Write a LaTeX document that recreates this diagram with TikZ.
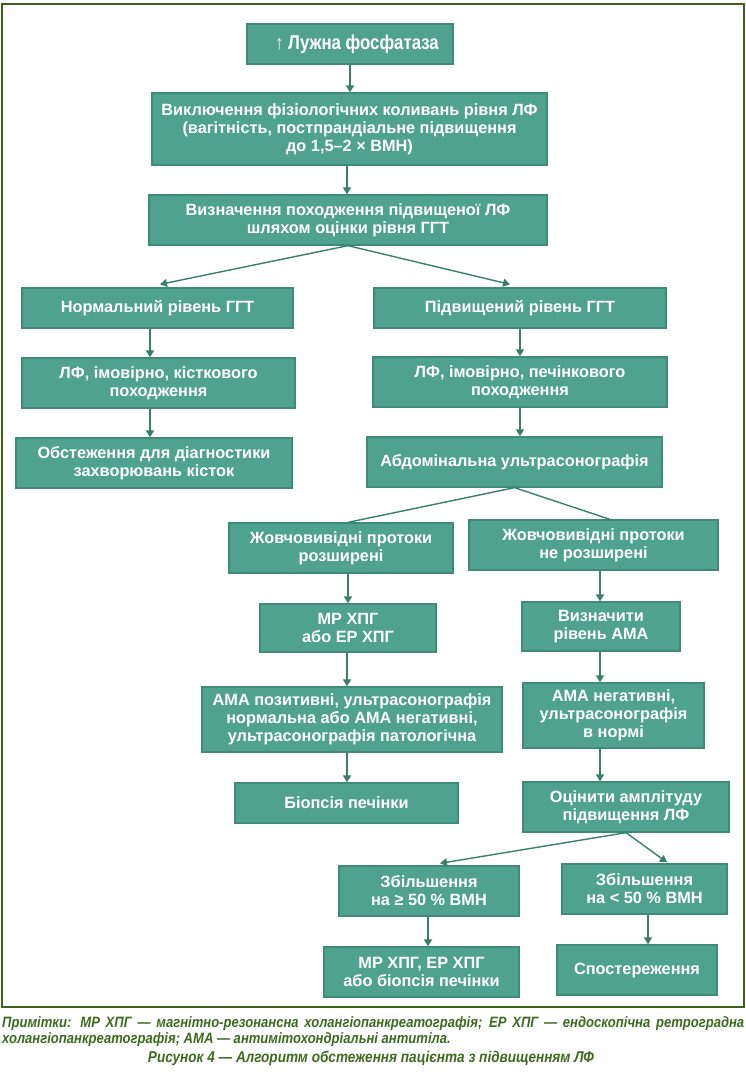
\documentclass[tikz,border=0pt]{standalone}
\usepackage{fontspec}
\setmainfont{Liberation Sans}
\newfontfamily\vuzkyj[FakeStretch=0.84]{Liberation Sans}
\newfontfamily\vuzkyjprym[FakeStretch=0.87]{Liberation Sans}
\usepackage{xcolor}
\usepackage{tikz}
\usetikzlibrary{arrows.meta}
\definecolor{zelen}{HTML}{4FA38E}
\definecolor{kontur}{HTML}{3E8C78}
\definecolor{liniya}{HTML}{3A7F6C}
\definecolor{ramkakolir}{HTML}{3D6119}
\definecolor{prymitka}{HTML}{3C6A1E}

\begin{document}
\begin{tikzpicture}[x=1pt, y=-1pt,
  blok/.style={draw=kontur, line width=1.3pt, fill=zelen, text=white, inner sep=0pt,
    align=center, font=\bfseries\fontsize{16.3}{18}\selectfont},
  strilka/.style={draw=liniya, line width=2pt, -{Triangle[length=7pt,width=8pt]}},
  skis/.style={draw=liniya, line width=1.4pt, -{Triangle[length=7pt,width=8pt]}},
  skisbez/.style={draw=liniya, line width=1.4pt}]
  \useasboundingbox (0,0) rectangle (746,1074);
  % рамка
  \draw[ramkakolir, line width=1.3pt] (2,4) rectangle (744,1007);
  % верхні блоки
  \node[blok, minimum width=206, minimum height=40, font=\vuzkyj\bfseries\fontsize{20}{22}\selectfont] (lf) at (350,44) {\hspace*{14pt}↑ Лужна фосфатаза};
  \node[blok, minimum width=395, minimum height=72] (vykl) at (349.5,129) {Виключення фізіологічних коливань рівня ЛФ\\(вагітність, постпрандіальне підвищення\\до 1,5–2 × ВМН)};
  \node[blok, minimum width=398, minimum height=50] (vyzn) at (348,220) {Визначення походження підвищеної ЛФ\\шляхом оцінки рівня ГГТ};
  % ліва гілка
  \node[blok, minimum width=271, minimum height=40] (norm) at (157.5,308) {Нормальний рівень ГГТ};
  \node[blok, minimum width=273, minimum height=50] (kist) at (158.5,383) {ЛФ, імовірно, кісткового\\походження};
  \node[blok, minimum width=276, minimum height=50] (obst) at (154,463) {Обстеження для діагностики\\захворювань кісток};
  % права гілка
  \node[blok, minimum width=292, minimum height=40] (pidv) at (520,308) {Підвищений рівень ГГТ};
  \node[blok, minimum width=294, minimum height=50] (pech) at (520,382) {ЛФ, імовірно, печінкового\\походження};
  \node[blok, minimum width=295, minimum height=50] (uzd) at (514.5,462) {Абдомінальна ультрасонографія};
  \node[blok, minimum width=224, minimum height=50] (rozsh) at (341,548) {Жовчовивідні протоки\\розширені};
  \node[blok, minimum width=249, minimum height=50] (nerozsh) at (593.5,545) {Жовчовивідні протоки\\не розширені};
  \node[blok, minimum width=176, minimum height=48] (mrhpg) at (348,628) {МР ХПГ\\або ЕР ХПГ};
  \node[blok, minimum width=300, minimum height=65] (amapoz) at (352,719.5) {АМА позитивні, ультрасонографія\\нормальна або АМА негативні,\\ультрасонографія патологічна};
  \node[blok, minimum width=158, minimum height=49] (ama) at (601,626.5) {Визначити\\рівень АМА};
  \node[blok, minimum width=181, minimum height=65] (amaneg) at (613.5,715.5) {АМА негативні,\\ультрасонографія\\в нормі};
  \node[blok, minimum width=223, minimum height=40] (biop) at (346.5,803) {Біопсія печінки};
  \node[blok, minimum width=206, minimum height=50] (ampl) at (626,807) {Оцінити амплітуду\\підвищення ЛФ};
  \node[blok, minimum width=180, minimum height=50] (bilshe) at (429,891) {Збільшення\\на ≥ 50 \% ВМН};
  \node[blok, minimum width=165, minimum height=50] (menshe) at (644.5,889) {Збільшення\\на < 50 \% ВМН};
  \node[blok, minimum width=195, minimum height=50] (mrbiop) at (421.5,972) {МР ХПГ, ЕР ХПГ\\або біопсія печінки};
  \node[blok, minimum width=160, minimum height=50] (sposter) at (637,970) {Спостереження};
  % стрілки
  \draw[strilka] (lf.south) -- (lf.south |- vykl.north);
  \draw[strilka] ([xshift=-2.5pt]vykl.south) -- ([xshift=-2.5pt]vykl.south |- vyzn.north);
  \draw[skis] (vyzn.south) -- ([xshift=2.5pt, yshift=3pt]norm.north);
  \draw[skis] (vyzn.south) -- ([xshift=-10pt, yshift=3pt]pidv.north);
  \draw[strilka] ([xshift=-7.5pt]norm.south) -- ([xshift=-7.5pt]norm.south |- kist.north);
  \draw[strilka] ([xshift=-8.5pt]kist.south) -- ([xshift=-8.5pt]kist.south |- obst.north);
  \draw[strilka] (pidv.south) -- (pidv.south |- pech.north);
  \draw[strilka] (pech.south) -- (pech.south |- uzd.north);
  \draw[skisbez] (uzd.south) -- ([xshift=7pt]rozsh.north);
  \draw[skisbez] (uzd.south) -- ([xshift=16.5pt]nerozsh.north);
  \draw[strilka] ([xshift=7pt]rozsh.south) -- ([xshift=7pt]rozsh.south |- mrhpg.north);
  \draw[strilka] ([xshift=6.5pt]nerozsh.south) -- ([xshift=6.5pt]nerozsh.south |- ama.north);
  \draw[strilka] ([xshift=-1pt]mrhpg.south) -- ([xshift=-1pt]mrhpg.south |- amapoz.north);
  \draw[strilka] ([xshift=-5pt]amapoz.south) -- ([xshift=-5pt]amapoz.south |- biop.north);
  \draw[strilka] ([xshift=-1pt]ama.south) -- ([xshift=-1pt]ama.south |- amaneg.north);
  \draw[strilka] ([xshift=-13.5pt]amaneg.south) -- ([xshift=-13.5pt]amaneg.south |- ampl.north);
  \draw[skis] (ampl.south) -- ([xshift=11pt, yshift=2pt]bilshe.north);
  \draw[skis] (ampl.south) -- ([xshift=22.5pt, yshift=1pt]menshe.north);
  \draw[strilka] ([xshift=-1pt]bilshe.south) -- ([xshift=-1pt]bilshe.south |- mrbiop.north);
  \draw[strilka] ([xshift=3.5pt]menshe.south) -- ([xshift=3.5pt]menshe.south |- sposter.north);
  % примітки і підпис
  \node[anchor=north west, inner sep=0pt, text width=742, align=justify, text=prymitka,
    font=\vuzkyjprym\bfseries\itshape\fontsize{15}{16}\selectfont] (prym) at (2,1016)
    {Примітки: МР ХПГ — магнітно-резонансна холангіопанкреатографія; ЕР ХПГ — ендоскопічна ретроградна холангіопанкреатографія; АМА — антимітохондріальні антитіла.};
  \node[inner sep=0pt, text=prymitka, font=\vuzkyjprym\bfseries\itshape\fontsize{15.6}{16}\selectfont] (pidpys) at (371,1058)
    {Рисунок 4 — Алгоритм обстеження пацієнта з підвищенням ЛФ};
\end{tikzpicture}
\end{document}
